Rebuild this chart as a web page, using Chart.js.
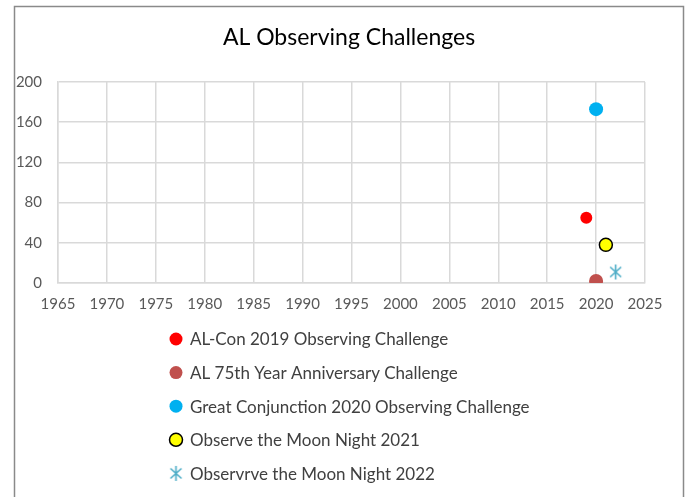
<!DOCTYPE html>
<html>
<head>
<meta charset="utf-8">
<script src="https://cdn.jsdelivr.net/npm/chart.js@4"></script>
<style>
  html, body { margin: 0; padding: 0; background: #fff; }
  #wrap { width: 686px; height: 497px; position: relative; }
</style>
</head>
<body>
<div id="wrap"><canvas id="myChart"></canvas></div>
<script>
// data
const chartTitle = 'AL Observing Challenges';
const seriesNames = [
  'AL-Con 2019 Observing Challenge',
  'AL 75th Year Anniversary Challenge',
  'Great Conjunction 2020 Observing Challenge',
  'Observe the Moon Night 2021',
  'Observrve the Moon Night 2022'
];
const seriesYears = [2019, 2020, 2020, 2021, 2022];
const seriesValues = [65, 2, 173, 38, 11];
const yearTicks = [1965, 1970, 1975, 1980, 1985, 1990, 1995, 2000, 2005, 2010, 2015, 2020, 2025];
const valueTicks = [0, 40, 80, 120, 160, 200];

// Excel style asterisk marker (vertical bar + X)
const asterisk = document.createElement('canvas');
asterisk.width = 17;
asterisk.height = 17;
(function () {
  const c = asterisk.getContext('2d');
  c.strokeStyle = '#4BACC6';
  c.lineWidth = 1.6;
  c.beginPath();
  c.moveTo(8.5, 1); c.lineTo(8.5, 16);
  c.moveTo(3, 3.5); c.lineTo(14, 13.5);
  c.moveTo(14, 3.5); c.lineTo(3, 13.5);
  c.stroke();
})();

const styles = [
  {bg: '#FF0000', border: '#FF0000', style: 'circle', r: 6, bw: 0},
  {bg: '#C0504D', border: '#C0504D', style: 'circle', r: 7, bw: 0},
  {bg: '#00B0F0', border: '#00B0F0', style: 'circle', r: 7, bw: 0},
  {bg: '#FFFF00', border: '#000000', style: 'circle', r: 6.5, bw: 1.5},
  {bg: '#4BACC6', border: '#4BACC6', style: asterisk, r: 8, bw: 0}
];

const datasets = seriesNames.map((name, i) => ({
  label: name,
  data: [{x: seriesYears[i], y: seriesValues[i]}],
  backgroundColor: styles[i].bg,
  borderColor: styles[i].border,
  borderWidth: styles[i].bw,
  pointStyle: styles[i].style,
  pointRadius: styles[i].r,
  pointHoverRadius: styles[i].r
}));

// white page, outer frame and the title centred on the frame
const frame = {
  id: 'frame',
  beforeDraw(chart) {
    const ctx = chart.ctx;
    ctx.save();
    ctx.fillStyle = '#fff';
    ctx.fillRect(0, 0, chart.width, chart.height);
    ctx.strokeStyle = '#8a8a8a';
    ctx.lineWidth = 1.5;
    ctx.strokeRect(14.5, 6.5, 669, 600);
    ctx.fillStyle = '#000';
    ctx.font = '23px Lato';
    ctx.textAlign = 'center';
    ctx.textBaseline = 'middle';
    ctx.fillText(chartTitle, 349, 38);
    ctx.restore();
  }
};

// one legend row per series, under the plot
const listLegend = {
  id: 'listLegend',
  afterDraw(chart) {
    const ctx = chart.ctx;
    ctx.save();
    ctx.font = '17px Lato';
    ctx.textBaseline = 'middle';
    chart.data.datasets.forEach((ds, i) => {
      const y = 339 + i * 33.6;
      ctx.fillStyle = ds.backgroundColor;
      ctx.strokeStyle = ds.borderColor;
      ctx.lineWidth = ds.borderWidth;
      Chart.helpers.drawPoint(ctx, {
        pointStyle: ds.pointStyle,
        radius: 6.5,
        rotation: 0,
        borderWidth: ds.borderWidth
      }, 176, y);
      ctx.fillStyle = '#404040';
      ctx.fillText(ds.label, 190, y + 1);
    });
    ctx.restore();
  }
};

new Chart(document.getElementById('myChart'), {
  type: 'scatter',
  data: {datasets: datasets},
  plugins: [frame, listLegend],
  options: {
    responsive: true,
    maintainAspectRatio: false,
    animation: false,
    layout: {padding: {left: 14, right: 41, top: 82, bottom: 184}},
    plugins: {
      legend: {display: false},
      tooltip: {enabled: false},
      title: {display: false}
    },
    scales: {
      x: {
        type: 'linear',
        min: 1965,
        max: 2025,
        afterFit: (s) => { s.height = 30; },
        afterBuildTicks: (s) => { s.ticks = yearTicks.map(v => ({value: v})); },
        ticks: {
          color: '#595959',
          font: {family: 'Lato', size: 15},
          padding: 12,
          maxRotation: 0,
          callback: (v) => String(v)
        },
        grid: {color: '#d9d9d9', lineWidth: 1.5, drawTicks: false},
        border: {color: '#d9d9d9', width: 1.5}
      },
      y: {
        min: 0,
        max: 200,
        afterFit: (s) => { s.width = 44; },
        afterBuildTicks: (s) => { s.ticks = valueTicks.map(v => ({value: v})); },
        ticks: {color: '#595959', font: {family: 'Lato', size: 15}, padding: 16},
        grid: {color: '#d9d9d9', lineWidth: 1.5, drawTicks: false},
        border: {color: '#d9d9d9', width: 1.5}
      }
    }
  }
});
</script>
</body>
</html>
